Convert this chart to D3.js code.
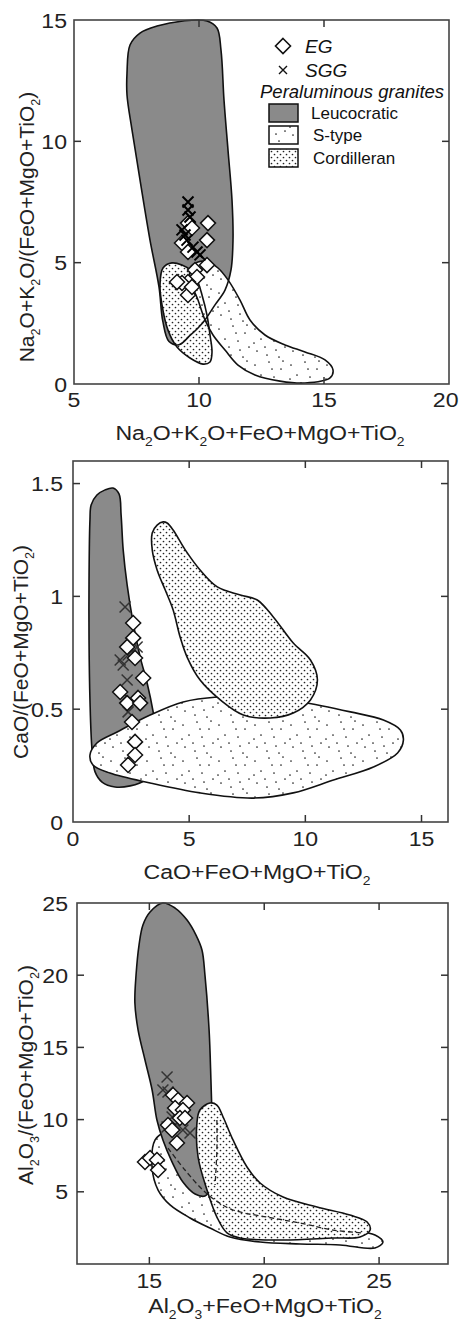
<!DOCTYPE html>
<html><head><meta charset="utf-8">
<script src="https://cdn.jsdelivr.net/npm/d3@7"></script>
<style>html,body{margin:0;padding:0;background:#fff}</style>
</head><body><svg id="c" width="460" height="1324"></svg>
<script>
// ---------------- DATA ----------------
// Panel 1: Na2O+K2O+FeO+MgO+TiO2 vs Na2O+K2O/(FeO+MgO+TiO2)
const p1XTicks = [5, 10, 15, 20];
const p1YTicks = [0, 5, 10, 15];
const p1Leuco = [[7.12,12.81],[7.24,13.97],[7.64,14.46],[8.32,14.75],[9.36,14.96],[10.32,14.96],[10.72,14.67],[10.88,13.76],[11.0,11.7],[11.16,9.64],[11.32,7.58],[11.36,5.93],[11.28,4.7],[11.04,3.87],[10.64,3.26],[10.24,2.64],[9.96,2.31],[9.64,2.0],[9.2,1.62],[8.8,1.75],[8.55,2.6],[8.4,4.0],[8.04,5.93],[7.64,8.41],[7.32,10.47],[7.12,11.91]];
const p1Cord = [[8.56,4.78],[8.92,4.99],[9.32,4.9],[9.64,4.7],[9.92,4.29],[10.12,3.67],[10.32,2.84],[10.44,2.02],[10.52,1.32],[10.44,0.91],[10.16,0.82],[9.64,1.07],[9.12,1.52],[8.76,2.22],[8.52,3.26],[8.44,4.08]];
const p1Stype = [[9.64,4.78],[9.96,5.03],[10.36,5.03],[10.76,4.78],[11.16,4.29],[11.64,3.46],[12.04,2.64],[12.64,2.02],[13.44,1.61],[14.24,1.32],[15.04,0.99],[15.36,0.58],[15.24,0.25],[14.24,0.04],[13.24,0.12],[12.24,0.37],[11.56,0.78],[11.04,1.4],[10.56,2.02],[10.24,2.64],[9.96,3.46],[9.72,4.08]];
const p1EG = [[9.56,6.63],[10.36,6.63],[10.32,5.93],[9.72,6.43],[9.32,5.81],[9.56,5.44],[10.32,4.9],[9.84,4.7],[9.92,4.41],[9.56,4.2],[9.32,4.16],[9.12,4.2],[9.56,3.67],[9.72,4.0]];
const p1SGG = [[9.56,7.5],[9.56,7.17],[9.64,6.88],[9.32,6.35],[9.44,6.14],[9.52,5.93],[9.76,5.64],[9.92,5.44],[10.04,5.32]];

// Panel 2: CaO+FeO+MgO+TiO2 vs CaO/(FeO+MgO+TiO2)
const p2XTicks = [0, 5, 10, 15];
const p2YTicks = [0, 0.5, 1, 1.5];
const p2YLabels = ["0", "0.5", "1", "1.5"];
const p2Leuco = [[0.73,1.339],[0.78,1.405],[1.03,1.449],[1.38,1.472],[1.72,1.48],[1.98,1.454],[2.07,1.361],[2.16,1.206],[2.33,1.051],[2.59,0.882],[2.89,0.732],[3.19,0.616],[3.45,0.488],[3.62,0.363],[3.53,0.253],[3.1,0.186],[2.46,0.16],[1.81,0.155],[1.25,0.177],[0.95,0.222],[0.82,0.319],[0.73,0.541],[0.69,0.807],[0.69,1.073]];
const p2Cord = [[3.88,1.33],[3.62,1.316],[3.41,1.281],[3.41,1.206],[3.62,1.117],[3.97,1.028],[4.31,0.94],[4.61,0.82],[4.91,0.731],[5.47,0.629],[6.34,0.541],[7.33,0.474],[8.49,0.461],[9.48,0.483],[10.22,0.541],[10.52,0.629],[10.22,0.718],[9.48,0.793],[8.62,0.909],[7.93,0.984],[7.2,1.006],[6.21,1.042],[5.47,1.117],[4.83,1.206],[4.31,1.294],[4.05,1.325]];
const p2Stype = [[0.73,0.297],[1.03,0.35],[1.9,0.399],[3.32,0.474],[4.74,0.532],[6.21,0.554],[7.76,0.554],[9.78,0.532],[11.94,0.488],[13.36,0.452],[14.09,0.408],[14.22,0.363],[13.97,0.306],[12.93,0.244],[11.21,0.186],[9.48,0.129],[7.76,0.106],[5.47,0.129],[3.32,0.173],[1.59,0.217],[0.86,0.253]];
const p2EG = [[2.59,0.882],[2.59,0.816],[2.33,0.776],[2.67,0.727],[3.02,0.638],[2.03,0.576],[2.33,0.527],[2.8,0.55],[2.89,0.527],[2.54,0.443],[2.67,0.355],[2.67,0.297],[2.37,0.253]];
const p2SGG = [[2.24,0.953],[2.03,0.718],[2.16,0.696],[2.37,0.74],[2.76,0.776],[2.33,0.629],[2.46,0.541],[2.37,0.488]];

// Panel 3: Al2O3+FeO+MgO+TiO2 vs Al2O3/(FeO+MgO+TiO2)
const p3XTicks = [15, 20, 25];
const p3YTicks = [5, 10, 15, 20, 25];
const p3Leuco = [[15.59,25.0],[15.03,24.38],[14.72,23.48],[14.55,22.09],[14.42,20.01],[14.37,18.07],[14.51,16.2],[14.81,14.13],[15.12,12.05],[15.33,9.97],[15.59,8.59],[15.99,7.06],[16.46,5.68],[16.99,4.85],[17.42,4.71],[17.68,5.26],[17.77,6.86],[17.73,9.97],[17.68,12.74],[17.6,16.2],[17.42,20.01],[17.29,21.75],[17.03,22.78],[16.64,23.82],[16.12,24.65]];
const p3Cord = [[17.64,11.15],[17.2,10.66],[17.07,9.76],[17.12,7.41],[17.51,5.12],[17.94,3.25],[18.38,2.15],[18.95,1.8],[20.82,1.66],[23.0,1.8],[24.17,1.87],[24.61,2.35],[24.48,2.91],[23.73,3.39],[22.3,3.95],[20.82,4.64],[19.82,5.61],[19.25,6.72],[18.64,8.59],[18.21,10.18],[17.94,11.01]];
const p3Stype = [[15.25,8.59],[15.68,9.14],[16.33,9.28],[16.99,8.73],[17.64,7.89],[18.51,6.51],[19.82,4.78],[21.56,3.39],[23.3,2.49],[24.82,2.01],[25.17,1.52],[24.82,1.11],[23.3,1.32],[21.56,1.39],[19.82,1.52],[18.51,1.87],[17.64,2.49],[16.77,3.19],[15.9,4.09],[15.38,5.12],[15.12,6.65]];
const p3Dash1 = [[15.81,8.03],[16.55,6.51],[17.33,5.12],[17.86,4.43],[18.64,3.74],[20.12,3.25],[21.56,2.84],[22.99,2.35],[24.3,2.15]];
const p3Dash2 = [[17.94,9.97],[17.94,7.89],[17.86,5.47]];
const p3EG = [[16.03,11.7],[16.25,11.36],[16.64,11.15],[16.12,10.8],[16.46,10.66],[16.33,10.11],[16.55,10.11],[15.81,9.63],[15.99,9.28],[16.2,8.38],[14.81,7.06],[15.03,7.34],[15.33,7.2],[15.38,6.51]];
const p3SGG = [[15.77,12.95],[15.59,12.05],[15.81,11.91],[15.99,10.18],[15.77,9.49],[16.33,9.97],[16.46,9.28],[16.77,9.07],[16.12,9.63]];

const legendSymbols = ["EG", "SGG"];
const legendTitle = "Peraluminous granites";
const legendFields = ["Leucocratic", "S-type", "Cordilleran"];

// ---------------- DRAWING ----------------
const FONT = "'Liberation Sans', Arial, Helvetica, sans-serif";
const HS = 1.1; // horizontal stretch of horizontal texts
const W = 460;
const svg = d3.select('#c');
svg.append('rect').attr('width',460).attr('height',1324).attr('fill','#fff');

const defs = svg.append('defs');
const dense = defs.append('pattern').attr('id','dense').attr('patternUnits','userSpaceOnUse').attr('width',6).attr('height',6);
dense.append('rect').attr('width',6).attr('height',6).attr('fill','#fff');
dense.append('circle').attr('cx',1.5).attr('cy',1.5).attr('r',0.85).attr('fill','#222');
dense.append('circle').attr('cx',4.5).attr('cy',4.5).attr('r',0.85).attr('fill','#222');
const sparse = defs.append('pattern').attr('id','sparse').attr('patternUnits','userSpaceOnUse').attr('width',36).attr('height',36);
sparse.append('rect').attr('width',36).attr('height',36).attr('fill','#fff');
[[3,5],[17,2],[29,9],[9,15],[22,17],[33,23],[5,27],[15,31],[27,33],[13,23],[24,26],[2,19],[20,9],[31,1]].forEach(p=>
  sparse.append('circle').attr('cx',p[0]).attr('cy',p[1]).attr('r',0.85).attr('fill','#222'));

const GRAY = '#8a8a8a';

function rich(t, s, fs){
  const parts = s.split(/(\{[^}]*\})/).filter(p=>p.length);
  let prevSub=false;
  const sh = fs*0.28;
  parts.forEach(p=>{
    const isSub = p[0]==='{';
    const ts = t.append('tspan').text(isSub? p.slice(1,-1): p);
    if(isSub){ ts.attr('font-size', (fs*0.6)+'px').attr('dy', prevSub?0:sh); }
    else if(prevSub){ ts.attr('dy', -sh); }
    prevSub=isSub;
  });
}

function panel(cfg){
  const x = d3.scaleLinear().domain(cfg.xd).range(cfg.xr);
  const y = d3.scaleLinear().domain(cfg.yd).range(cfg.yr);
  const g = svg.append('g');
  const closed = d3.line().x(d=>x(d[0])).y(d=>y(d[1])).curve(d3.curveCatmullRomClosed.alpha(0.5));
  const open = d3.line().x(d=>x(d[0])).y(d=>y(d[1])).curve(d3.curveCatmullRom.alpha(0.5));
  cfg.layers.forEach(L=>{
    if(L.fill) g.append('path').attr('d', closed(L.data)).attr('fill', L.fill).attr('stroke', L.noStroke?'none':'#111').attr('stroke-width',1.6);
    else if(L.outline) g.append('path').attr('d', closed(L.data)).attr('fill','none').attr('stroke','#111').attr('stroke-width',1.6);
    else if(L.dash) g.append('path').attr('d', open(L.data)).attr('fill','none').attr('stroke','#222').attr('stroke-width',1.3).attr('stroke-dasharray','5,3');
  });
  const drawSGG = ()=> g.append('g').selectAll('path').data(cfg.sgg).join('path')
      .attr('transform', d=>`translate(${x(d[0])},${y(d[1])})`)
      .attr('d','M-5.5,-5.5L5.5,5.5M-5.5,5.5L5.5,-5.5').attr('stroke', cfg.xColor).attr('stroke-width',cfg.xWidth).attr('fill','none');
  const drawEG = ()=> g.append('g').selectAll('path').data(cfg.eg).join('path')
      .attr('transform', d=>`translate(${x(d[0])},${y(d[1])})`)
      .attr('d','M0,-7.5L7.5,0L0,7.5L-7.5,0Z').attr('fill','#fff').attr('stroke','#111').attr('stroke-width',1.5);
  if(cfg.crossOnTop){ drawEG(); drawSGG(); } else { drawSGG(); drawEG(); }

  // frame
  const [x0,x1] = cfg.xr, [y0,y1] = [cfg.yr[1], cfg.yr[0]];
  g.append('rect').attr('x',x0).attr('y',y0).attr('width',x1-x0).attr('height',y1-y0)
    .attr('fill','none').attr('stroke','#444').attr('stroke-width',1.6);
  const tk = 7;
  const ax = g.append('g').attr('stroke','#333').attr('stroke-width',1.5);
  cfg.xt.forEach(v=>{ const px=x(v); if(px>x0+1 && px<x1-1){
    ax.append('line').attr('x1',px).attr('x2',px).attr('y1',y1).attr('y2',y1-tk);
    ax.append('line').attr('x1',px).attr('x2',px).attr('y1',y0).attr('y2',y0+tk);}});
  cfg.yt.forEach(v=>{ const py=y(v); if(py>y0+1 && py<y1-1){
    ax.append('line').attr('x1',x0).attr('x2',x0+tk).attr('y1',py).attr('y2',py);
    ax.append('line').attr('x1',x1).attr('x2',x1-tk).attr('y1',py).attr('y2',py);}});
  // tick labels (kept inside the page width)
  g.append('g').selectAll('text').data(cfg.xt).join('text')
    .attr('text-anchor','middle')
    .attr('font-family',FONT).attr('font-size',21).attr('fill','#222').text(d=>d)
    .each(function(d){
      const half = this.getComputedTextLength()*HS/2;
      const cx = Math.min(x(d), W - 1.5 - half);
      d3.select(this).attr('transform', `translate(${cx},${y1 + cfg.xpad}) scale(${HS},1)`);
    });
  g.append('g').selectAll('text').data(cfg.yt).join('text')
    .attr('transform', d=>`translate(${x0 - cfg.ypad},${y(d)+7.5}) scale(${HS},1)`).attr('text-anchor','end')
    .attr('font-family',FONT).attr('font-size',21).attr('fill','#222').text((d,i)=>cfg.yl? cfg.yl[i] : d);
  // titles
  const xt = g.append('text').attr('transform',`translate(${cfg.xtitle[0]},${cfg.xtitle[1]}) scale(${HS},1)`).attr('text-anchor','middle')
    .attr('font-family',FONT).attr('font-size',21).attr('fill','#222');
  rich(xt, cfg.xlab, 21);
  const yt = g.append('text').attr('transform',`translate(${cfg.ytitle[0]},${cfg.ytitle[1]}) rotate(-90)`).attr('text-anchor','middle')
    .attr('font-family',FONT).attr('font-size',21).attr('fill','#222');
  rich(yt, cfg.ylab, 21);
  return {x,y,g};
}

// Panel 1
panel({
  xd:[5,20], xr:[74,449], yd:[0,15], yr:[384,20],
  xt:p1XTicks, yt:p1YTicks, xpad:23, ypad:7,
  xlab:'Na{2}O+K{2}O+FeO+MgO+TiO{2}', ylab:'Na{2}O+K{2}O/(FeO+MgO+TiO{2})',
  xtitle:[260,440], ytitle:[34,227],
  xColor:'#000', xWidth:2, crossOnTop:true,
  layers:[
    {data:p1Leuco, fill:GRAY, noStroke:true},
    {data:p1Cord, fill:'url(#dense)', noStroke:true},
    {data:p1Stype, fill:'url(#sparse)', noStroke:true},
    {data:p1Leuco, outline:true},
    {data:p1Cord, outline:true},
    {data:p1Stype, outline:true}
  ],
  eg:p1EG, sgg:p1SGG
});

// Legend (panel 1)
const lg = svg.append('g').attr('font-family',FONT).attr('fill','#111');
lg.append('path').attr('transform','translate(283,46)').attr('d','M0,-7.5L7.5,0L0,7.5L-7.5,0Z').attr('fill','#fff').attr('stroke','#111').attr('stroke-width',1.6);
lg.append('text').attr('x',305).attr('y',53).attr('font-size',19).attr('font-style','italic').text(legendSymbols[0]);
lg.append('path').attr('transform','translate(283,70)').attr('d','M-4,-4L4,4M-4,4L4,-4').attr('stroke','#111').attr('stroke-width',1.4);
lg.append('text').attr('x',305).attr('y',77).attr('font-size',19).attr('font-style','italic').text(legendSymbols[1]);
lg.append('text').attr('x',260).attr('y',98).attr('font-size',18.5).attr('font-style','italic').text(legendTitle);
const fills = [GRAY,'url(#sparse)','url(#dense)'];
const boxY = [104,126,149];
legendFields.forEach((f,i)=>{
  lg.append('rect').attr('x',269).attr('y',boxY[i]).attr('width',29).attr('height',18).attr('fill',fills[i]).attr('stroke','#111').attr('stroke-width',1.5);
  lg.append('text').attr('x',i==0?311:313).attr('y',boxY[i]+15).attr('font-size',17).text(f);
});

// Panel 2
panel({
  xd:[0,16.14], xr:[73,448], yd:[0,1.6], yr:[822,461],
  xt:p2XTicks, yt:p2YTicks, yl:p2YLabels, xpad:24, ypad:10,
  xlab:'CaO+FeO+MgO+TiO{2}', ylab:'CaO/(FeO+MgO+TiO{2})',
  xtitle:[257,879], ytitle:[28,652],
  xColor:'#333', xWidth:1.5, crossOnTop:false,
  layers:[
    {data:p2Leuco, fill:GRAY},
    {data:p2Stype, fill:'url(#sparse)'},
    {data:p2Cord, fill:'url(#dense)'}
  ],
  eg:p2EG, sgg:p2SGG
});

// Panel 3
panel({
  xd:[11.85,28], xr:[77,448], yd:[0,25], yr:[1264,903],
  xt:p3XTicks, yt:p3YTicks, xpad:24, ypad:9,
  xlab:'Al{2}O{3}+FeO+MgO+TiO{2}', ylab:'Al{2}O{3}/(FeO+MgO+TiO{2})',
  xtitle:[265,1313], ytitle:[33,1075],
  xColor:'#333', xWidth:1.5, crossOnTop:false,
  layers:[
    {data:p3Stype, fill:'url(#sparse)'},
    {data:p3Leuco, fill:GRAY},
    {data:p3Cord, fill:'url(#dense)'},
    {data:p3Dash1, dash:true},
    {data:p3Dash2, dash:true}
  ],
  eg:p3EG, sgg:p3SGG
});
</script></body></html>
